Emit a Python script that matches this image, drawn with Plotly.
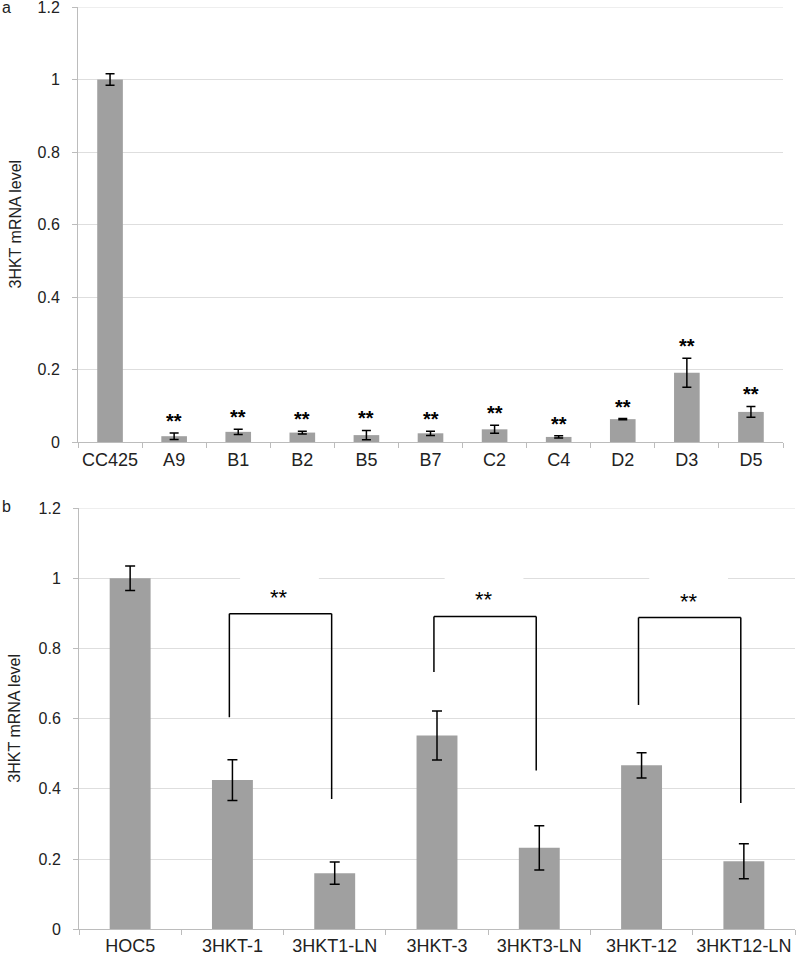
import plotly.graph_objects as go

# ---------- Panel a data ----------
cats_a = ["CC425", "A9", "B1", "B2", "B5", "B7", "C2", "C4", "D2", "D3", "D5"]
vals_a = [1.0, 0.016, 0.028, 0.026, 0.019, 0.024, 0.035, 0.014, 0.063, 0.191, 0.083]
errs_a = [0.016, 0.009, 0.007, 0.004, 0.013, 0.006, 0.011, 0.003, 0.0015, 0.040, 0.015]
sig_a = ["", "**", "**", "**", "**", "**", "**", "**", "**", "**", "**"]

# ---------- Panel b data ----------
cats_b = ["HOC5", "3HKT-1", "3HKT1-LN", "3HKT-3", "3HKT3-LN", "3HKT-12", "3HKT12-LN"]
vals_b = [1.0, 0.425, 0.160, 0.552, 0.232, 0.467, 0.194]
errs_b = [0.035, 0.058, 0.032, 0.070, 0.063, 0.036, 0.050]
pairs_b = [(1, 2), (3, 4), (5, 6)]
bracket_top = [0.899, 0.891, 0.888]
bracket_left_end = [0.604, 0.733, 0.639]
bracket_right_end = [0.371, 0.452, 0.360]
bracket_label = ["**", "**", "**"]

y_ticks = [0, 0.2, 0.4, 0.6, 0.8, 1.0, 1.2]
y_ticktext = ["0", "0.2", "0.4", "0.6", "0.8", "1", "1.2"]

BAR = "#a0a0a0"
GRID = "#dedede"
AXIS = "#bcbcbc"
FONT = "Arial, Liberation Sans, sans-serif"
W, H = 797, 957

fig = go.Figure()
fig.add_trace(go.Bar(x=cats_a, y=vals_a, marker=dict(color=BAR, line=dict(width=0)),
                     error_y=dict(type="data", array=errs_a, color="black", thickness=1.5, width=4.5),
                     xaxis="x", yaxis="y", showlegend=False))
fig.add_trace(go.Bar(x=cats_b, y=vals_b, marker=dict(color=BAR, line=dict(width=0)),
                     error_y=dict(type="data", array=errs_b, color="black", thickness=1.5, width=5),
                     xaxis="x2", yaxis="y2", showlegend=False))

# pixel geometry of plot areas
ax_a = dict(x0=78, x1=783, y0=7, y1=442)
ax_b = dict(x0=79, x1=795, y0=508, y1=929.3)

def xdom(a):
    return [a["x0"] / W, a["x1"] / W]

def ydom(a):
    return [1 - a["y1"] / H, 1 - a["y0"] / H]

common_x = dict(type="category", showline=True, linecolor=AXIS, linewidth=1,
                ticks="outside", ticklen=5, tickcolor=AXIS, tickson="boundaries",
                showgrid=False, tickfont=dict(family=FONT, size=18, color="#222"),
                zeroline=False, automargin=False, tickangle=0, ticklabeloverflow="allow")
common_y = dict(range=[0, 1.2], tickvals=y_ticks, ticktext=y_ticktext, showline=True,
                linecolor=AXIS, linewidth=1, ticks="outside", ticklen=5, tickcolor=AXIS,
                showgrid=True, gridcolor=GRID, gridwidth=1, zeroline=False,
                tickfont=dict(family=FONT, size=16, color="#222"), ticklabelstandoff=9,
                automargin=False, ticklabeloverflow="allow")

fig.update_layout(
    template="none",
    width=W, height=H, autosize=False,
    margin=dict(l=0, r=0, t=0, b=0, pad=0),
    paper_bgcolor="white", plot_bgcolor="white",
    bargap=0.6,
    xaxis=dict(domain=xdom(ax_a), anchor="y", range=[-0.5, len(cats_a) - 0.5],
               ticklabelstandoff=1, **common_x),
    yaxis=dict(domain=ydom(ax_a), anchor="x", **common_y),
    xaxis2=dict(domain=xdom(ax_b), anchor="y2", range=[-0.5, len(cats_b) - 0.5],
                ticklabelstandoff=0, **common_x),
    yaxis2=dict(domain=ydom(ax_b), anchor="x2", **common_y),
    font=dict(family=FONT, size=16, color="#222"),
)

annotations = []
shapes = []

# top gridline at the range edge in both panels
for xr, yr in (("x", "y"), ("x2", "y2")):
    shapes.append(dict(type="line", xref=xr + " domain", yref=yr, x0=0, x1=1, y0=y_ticks[-1], y1=y_ticks[-1],
                       line=dict(color=GRID, width=1), layer="below"))

# significance stars panel a
for c, v, e, s in zip(cats_a, vals_a, errs_a, sig_a):
    if s:
        annotations.append(dict(x=c, y=v + e, xref="x", yref="y", text="<b>" + s + "</b>",
                                showarrow=False, yanchor="bottom", yshift=-1,
                                font=dict(family=FONT, size=20, color="black")))

# brackets panel b
for (i, j), top, le, re, lab in zip(pairs_b, bracket_top, bracket_left_end, bracket_right_end, bracket_label):
    ln = dict(color="black", width=1.5)
    shapes.append(dict(type="line", xref="x2", yref="y2", x0=i - 0.03, x1=i - 0.03, y0=le, y1=top, line=ln, layer="above"))
    shapes.append(dict(type="line", xref="x2", yref="y2", x0=i - 0.03, x1=j - 0.03, y0=top, y1=top, line=ln, layer="above"))
    shapes.append(dict(type="line", xref="x2", yref="y2", x0=j - 0.03, x1=j - 0.03, y0=top, y1=re, line=ln, layer="above"))
    mid = (i + j) / 2 - 0.04
    # white label box interrupting the gridline
    shapes.append(dict(type="rect", xref="x2", yref="y2", x0=mid - 0.385, x1=mid + 0.385,
                       y0=0.975, y1=1.025, fillcolor="white", line=dict(width=0), layer="between"))
    annotations.append(dict(x=mid, y=top, xref="x2", yref="y2", text=lab, showarrow=False,
                            yanchor="bottom", yshift=2, font=dict(family=FONT, size=22, color="black")))

# axis titles
for a in (ax_a, ax_b):
    annotations.append(dict(x=15 / W, y=1 - (a["y0"] + a["y1"]) / 2 / H, xref="paper", yref="paper",
                            text="3HKT mRNA level", textangle=-90, showarrow=False,
                            xanchor="center", yanchor="middle",
                            font=dict(family=FONT, size=16, color="#222")))

# panel letters
annotations.append(dict(x=0, y=1 - 7 / H, xref="paper", yref="paper", text="a", showarrow=False,
                        xanchor="left", yanchor="middle", font=dict(family=FONT, size=16, color="#222")))
annotations.append(dict(x=0, y=1 - 506 / H, xref="paper", yref="paper", text="b", showarrow=False,
                        xanchor="left", yanchor="middle", font=dict(family=FONT, size=16, color="#222")))

fig.update_layout(annotations=annotations, shapes=shapes)
fig.write_html("out.html", config={"displayModeBar": False},
               post_script="document.body.style.margin='0';document.body.style.padding='0';")
